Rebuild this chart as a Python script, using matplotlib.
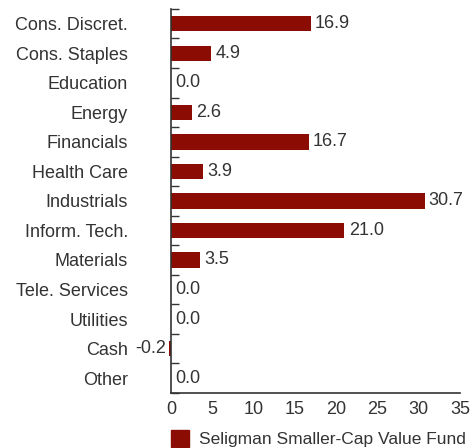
import matplotlib
matplotlib.use("Agg")
import matplotlib.pyplot as plt
import matplotlib.patches as mpatches
import numpy as np

categories = ["Cons. Discret.", "Cons. Staples", "Education", "Energy", "Financials",
              "Health Care", "Industrials", "Inform. Tech.", "Materials",
              "Tele. Services", "Utilities", "Cash", "Other"]
values = [16.9, 4.9, 0.0, 2.6, 16.7, 3.9, 30.7, 21.0, 3.5, 0.0, 0.0, -0.2, 0.0]
x_ticks = [0, 5, 10, 15, 20, 25, 30, 35]
series_name = "Seligman Smaller-Cap Value Fund"

bar_color = "#8b0c03"
text_color = "#333333"

plt.rcParams["font.family"] = ["Liberation Sans", "DejaVu Sans"]
plt.rcParams["font.size"] = 13

fig = plt.figure(figsize=(4.72, 4.48), dpi=100)
ax = fig.add_axes([0.362, 0.123, 0.613, 0.857])

y = np.arange(len(categories))
bars = ax.barh(y, values, height=0.52, color=bar_color)
for b in bars:
    b.set_clip_on(False)

for yi, v in zip(y, values):
    if v < 0:
        ax.annotate(f"{v:.1f}", (v, yi), xytext=(-2, 0), textcoords="offset points",
                    ha="right", va="center", color=text_color, annotation_clip=False)
    else:
        ax.annotate(f"{v:.1f}", (v, yi), xytext=(3, 0), textcoords="offset points",
                    ha="left", va="center", color=text_color, annotation_clip=False)

ax.set_ylim(len(categories) - 0.5, -0.5)
ax.set_xlim(0, 35)
ax.set_yticks(y)
ax.set_yticklabels(categories, color=text_color)
ax.set_yticks(np.arange(len(categories) + 1) - 0.5, minor=True)
ax.tick_params(axis="y", which="major", length=0, pad=31)
ax.tick_params(axis="y", which="minor", direction="in", length=6, width=1, color=text_color)
ax.set_xticks(x_ticks)
ax.tick_params(axis="x", length=0, pad=6, labelcolor=text_color)

for s in ["top", "right"]:
    ax.spines[s].set_visible(False)
for s in ["left", "bottom"]:
    ax.spines[s].set_color(text_color)
    ax.spines[s].set_linewidth(1.2)

handle = mpatches.Patch(color=bar_color, label=series_name)
fig.legend(handles=[handle], loc="lower left", bbox_to_anchor=(171 / 472, 1 / 448),
           frameon=False, borderpad=0, borderaxespad=0, fontsize=12.5,
           handlelength=1.05, handleheight=1.15, handletextpad=0.55,
           labelcolor=text_color)

fig.savefig("out.png", dpi=100, facecolor="white")
